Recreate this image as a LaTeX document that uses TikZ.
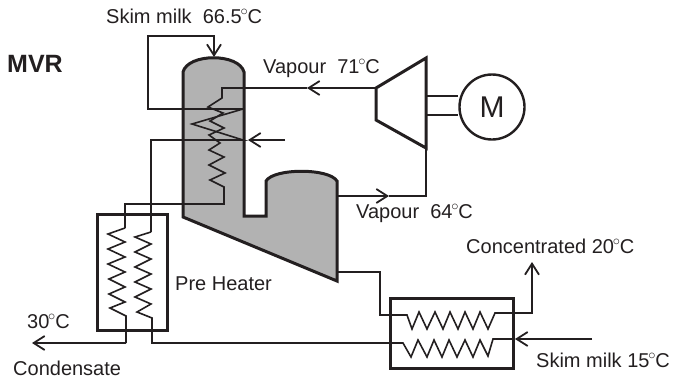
\documentclass[tikz,border=0pt]{standalone}
\usepackage{fontspec}
\setmainfont{Liberation Sans}
\usetikzlibrary{positioning,arrows.meta}
\definecolor{linedark}{HTML}{231F20}
\definecolor{vesselgray}{HTML}{B2B2B2}
\newcommand{\degc}{\kern-1.2pt$^{\circ}$\kern-0.6pt C}
\tikzset{
  pipe/.style={draw=linedark, line width=1.6pt, line join=miter},
  flow/.style={pipe, -{Straight Barb[length=11pt,width=14pt,line width=1.8pt]}},
  wall/.style={draw=linedark, line width=3pt, line join=miter},
  unitbox/.style={draw=linedark, line width=3pt, rectangle, inner sep=0pt},
  lbl/.style={inner sep=0pt, anchor=base west, text=linedark, font=\fontsize{20}{24}\selectfont}
}
\begin{document}
\begin{tikzpicture}[x=1pt, y=-1pt]
  \useasboundingbox (0,0) rectangle (678,378);

  \path[wall, fill=vesselgray] (183,217) -- (183,72) .. controls (188,53) and (239,53) .. (244,72) -- (244,216) -- (266,216) -- (266,181) .. controls (274,168) and (329,168) .. (337,181) -- (337,281) -- cycle;

  \node (preheater) [unitbox, minimum width=70pt, minimum height=116pt] at (132,272) {};
  \node (cooler) [unitbox, minimum width=123pt, minimum height=70pt] at (451.5,333) {};
  \node (motor) [draw=linedark, line width=2.4pt, circle, minimum size=65pt, inner sep=0pt, font=\fontsize{30}{34}\selectfont, text=linedark] at (492,107) {M};

  \coordinate (compin) at (376,88);
  \coordinate (comptop) at (426,58);
  \coordinate (compbot) at (426,148);
  \coordinate (compout) at (376,120);
  \path[wall] (compin) -- (comptop) -- (compbot) -- (compout) -- cycle;
  \coordinate (shafttop) at (426,96);
  \coordinate (shaftbot) at (426,115);
  \draw[pipe] (shafttop) -- (shafttop -| motor.west);
  \draw[pipe] (shaftbot) -- (shaftbot -| motor.west);

  \coordinate (feedtop) at (214,57);
  \coordinate (feedend) at (243,109);
  \coordinate (feedback) at (243,140);
  \coordinate (ventin) at (285,140);
  \coordinate (ventend) at (248,140);
  \draw[flow] (feedend) -- (148,109) -- (148,36) -- (214,36) -- (feedtop);
  \draw[pipe] (feedend) -- (192,124) -- (feedback) -- (151,140) -- (151,232);
  \draw[flow] (ventin) -- (ventend);

  \coordinate (vap71mid) at (307,88);
  \draw[flow] (compin) -- (vap71mid);
  \draw[pipe] (vap71mid) -- (222,88) -- (222,98) -- (208,107) -- (223,113) -- (210,121) -- (224,128) -- (209,135) -- (220,143) -- (209,150) -- (224,157) -- (209,165) -- (225,173) -- (210,180) -- (224,187) -- (224,204) -- (125,204) -- (125,228);

  \draw[pipe] (125,228) -- (108,234) -- (125,242) -- (108,249) -- (125,257) -- (108,264) -- (125,272) -- (109,279) -- (125,287) -- (109,294) -- (125,302) -- (110,308) -- (126,316) -- (126,343) coordinate (condbend);
  \coordinate (condend) at (32,343);
  \draw[flow] (condbend) -- (condend);

  \draw[pipe] (151,232) -- (135,237) -- (151,244) -- (135,252) -- (151,259) -- (135,267) -- (151,274) -- (135,282) -- (151,289) -- (135,297) -- (151,304) -- (137,312) -- (152,318) -- (152,343) -- (403,343) -- (411,357) -- (418,340) -- (427,357) -- (434,340) -- (442,357) -- (449,340) -- (457,357) -- (465,340) -- (473,357) -- (480,340) -- (488,356) -- (493,339) -- (515,339) coordinate (milkend);
  \coordinate (milkin) at (592,339);
  \draw[flow] (milkin) -- (milkend);

  \coordinate (bottoms) at (337,272);
  \coordinate (concend) at (532,262);
  \draw[flow] (bottoms) -- (380,272) -- (380,315) -- (407,315) -- (412,329) -- (419,312) -- (427,329) -- (435,312) -- (443,329) -- (450,312) -- (458,329) -- (465,312) -- (473,329) -- (480,312) -- (488,329) -- (495,313) -- (532,313) -- (concend);

  \coordinate (vap64mid) at (389,196);
  \draw[pipe] (compbot) -- (426,196) -- (vap64mid);
  \draw[flow] (337,196) -- (vap64mid);

  \node (mvr) [lbl, font=\fontsize{25}{28}\selectfont\bfseries] at (7,72) {MVR};
  \node (milktop) [lbl] at (106,23) {Skim milk\ \ 66.5\degc};
  \node (vap71) [lbl] at (263,73) {Vapour\ \ 71\degc};
  \node (vap64) [lbl] at (356,218) {Vapour\ \ 64\degc};
  \node (conc) [lbl] at (466,253) {Concentrated 20\degc};
  \node (milkbot) [lbl] at (536,367) {Skim milk 15\degc};
  \node (prelbl) [lbl] at (175,290) {Pre Heater};
  \node (cond30) [lbl] at (27,328) {30\degc};
  \node (condlbl) [lbl] at (13,375) {Condensate};
\end{tikzpicture}
\end{document}
